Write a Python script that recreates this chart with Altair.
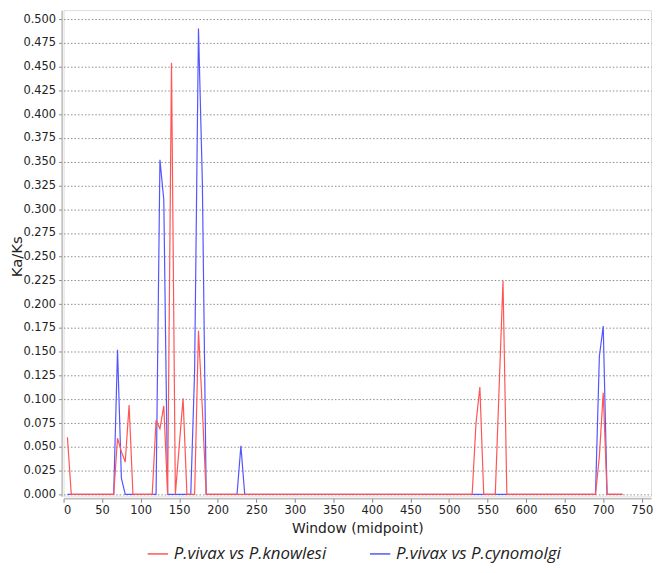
import altair as alt
import pandas as pd

# Series names and colours
series_names = ["P.vivax vs P.knowlesi", "P.vivax vs P.cynomolgi"]
series_colors = ["#FF5555", "#5555FF"]

# P.vivax vs P.knowlesi (red) - window midpoint / Ka/Ks vertices
knowlesi_x = [5, 10, 65, 70, 75, 80, 85, 90, 115, 120, 125, 130, 135, 140, 145, 155, 160,
              170, 175, 180, 185, 530, 535, 540, 545, 560, 570, 575, 690, 695, 700, 705, 725]
knowlesi_y = [0.060, 0.0, 0.0, 0.059, 0.045, 0.034, 0.094, 0.0, 0.0, 0.078, 0.069, 0.093, 0.0, 0.454, 0.0, 0.101, 0.0,
              0.0, 0.172, 0.090, 0.0, 0.0, 0.075, 0.113, 0.0, 0.0, 0.225, 0.0, 0.0, 0.040, 0.107, 0.0, 0.0]

# P.vivax vs P.cynomolgi (blue)
cynomolgi_x = [5, 65, 70, 75, 80, 120, 125, 130, 135, 165, 170, 175, 180, 185,
               225, 230, 235, 690, 695, 700, 705, 725]
cynomolgi_y = [0.0, 0.0, 0.152, 0.017, 0.0, 0.0, 0.352, 0.310, 0.0, 0.0, 0.130, 0.490, 0.330, 0.0,
               0.0, 0.051, 0.0, 0.0, 0.145, 0.177, 0.0, 0.0]

x_ticks = list(range(0, 751, 50))
y_ticks = [round(i * 0.025, 3) for i in range(21)]

df_k = pd.DataFrame({"window": knowlesi_x, "kaks": knowlesi_y, "series": series_names[0], "idx": range(len(knowlesi_x))})
df_c = pd.DataFrame({"window": cynomolgi_x, "kaks": cynomolgi_y, "series": series_names[1], "idx": range(len(cynomolgi_x))})

x_enc = alt.X(
    "window:Q",
    scale=alt.Scale(domain=[0, 762], nice=False, zero=False),
    axis=alt.Axis(values=x_ticks, title="Window (midpoint)", grid=False, format="d",
                  labelFont="DejaVu Sans", labelFontSize=11.5, labelColor="#222222",
                  titleFont="DejaVu Sans", titleFontSize=14, titleFontWeight="normal", titleColor="#222222",
                  titlePadding=6, tickSize=4, tickColor="#888888", domainColor="#999999",
                  labelPadding=2, offset=2),
)
y_enc = alt.Y(
    "kaks:Q",
    scale=alt.Scale(domain=[-0.0021, 0.5094], nice=False, zero=False),
    axis=alt.Axis(values=y_ticks, title="Ka/Ks", format=".3f", grid=True,
                  gridColor="#8c8c8c", gridDash=[1.5, 2], gridWidth=1,
                  labelFont="DejaVu Sans", labelFontSize=11.5, labelColor="#222222",
                  titleFont="DejaVu Sans", titleFontSize=15, titleFontWeight="normal", titleColor="#222222",
                  titleAngle=270, titleX=-52, titleY=248, titleAlign="center", titleBaseline="top",
                  tickSize=3, tickColor="#888888", domainColor="#999999",
                  labelPadding=3, offset=2),
)
color_enc = alt.Color(
    "series:N",
    scale=alt.Scale(domain=series_names, range=series_colors),
    legend=alt.Legend(title=None, orient="none", direction="horizontal", legendX=84, legendY=537,
                      symbolType="stroke", symbolSize=420, symbolStrokeWidth=1.5,
                      labelFont="Open Sans", labelFontSize=17, labelFontStyle="italic",
                      labelColor="#222222", labelOffset=5, columnPadding=40,
                      labelLimit=300),
)

blue = alt.Chart(df_c).mark_line(strokeWidth=1.2).encode(x=x_enc, y=y_enc, color=color_enc, order="idx:Q")
red = alt.Chart(df_k).mark_line(strokeWidth=1.2).encode(x=x_enc, y=y_enc, color=color_enc, order="idx:Q")

chart = alt.layer(blue, red).properties(
    width=592, height=490,
    padding={"left": 56, "top": 0, "right": 2, "bottom": 65},
    autosize="none",
).configure_view(stroke="#a0a0a0", strokeWidth=1).configure(background="white")

chart.save("out.html", embed_options={"renderer": "svg", "actions": False})
